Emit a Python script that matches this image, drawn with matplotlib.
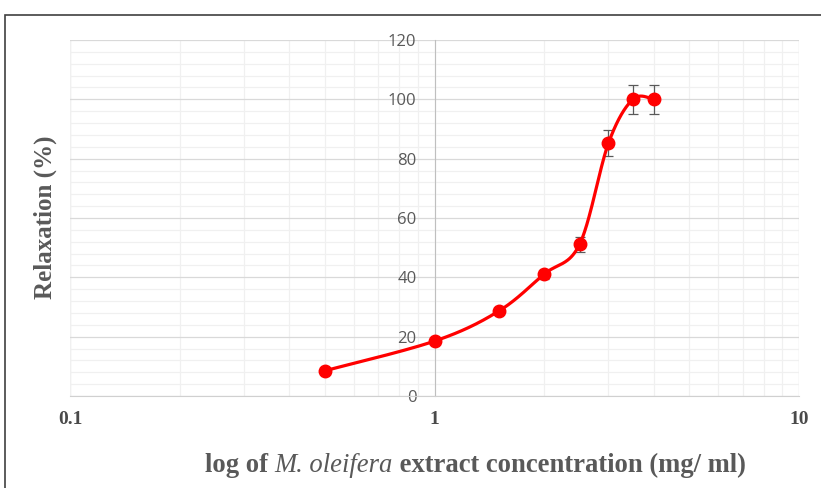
import matplotlib.pyplot as plt
import numpy as np
from matplotlib.patches import Rectangle
from matplotlib.ticker import FixedLocator, NullFormatter

# data
conc = [0.5, 1.0, 1.5, 2.0, 2.5, 3.0, 3.5, 4.0]
relax = [8.5, 18.5, 28.6, 41.1, 51.1, 85.2, 100.0, 100.0]
err = [0.8, 0.8, 1.0, 1.5, 2.4, 4.3, 5.0, 5.0]
xticks = [0.1, 1, 10]
xticklabels = ["0.1", "1", "10"]
yticks = [0, 20, 40, 60, 80, 100, 120]

plt.rcParams.update({
    "font.family": ["Open Sans", "DejaVu Sans"],
})

fig = plt.figure(figsize=(8.21, 4.88), dpi=100)
ax = fig.add_axes([70/821, 1-396/488, (799-70)/821, (396-40)/488])

# excel-like smoothed line (catmull-rom in log-x space)
u = np.log10(conc)
v = np.array(relax)
su, sv = [], []
t = np.linspace(0, 1, 40)
for i in range(len(u) - 1):
    p0 = (u[max(i-1, 0)], v[max(i-1, 0)])
    p1 = (u[i], v[i])
    p2 = (u[i+1], v[i+1])
    p3 = (u[min(i+2, len(u)-1)], v[min(i+2, len(u)-1)])
    c1 = (p1[0] + (p2[0]-p0[0])/6, p1[1] + (p2[1]-p0[1])/6)
    c2 = (p2[0] - (p3[0]-p1[0])/6, p2[1] - (p3[1]-p1[1])/6)
    for k in range(2):
        pts = [p1[k], c1[k], c2[k], p2[k]]
        b = ((1-t)**3*pts[0] + 3*(1-t)**2*t*pts[1]
             + 3*(1-t)*t**2*pts[2] + t**3*pts[3])
        (su if k == 0 else sv).extend(b)
ax.plot(10**np.array(su), sv, color="#ff0000", lw=2.3, zorder=3,
        solid_capstyle="round")
ax.errorbar(conc, relax, yerr=err, fmt="none", ecolor="#595959",
            elinewidth=0.9, capsize=3.5, capthick=0.9, zorder=2)
ax.plot(conc, relax, "o", color="#ff0000", ms=9, zorder=4)

ax.set_xscale("log")
ax.set_xlim(0.1, 10)
ax.set_ylim(0, 120)
ax.set_xticks(xticks)
minx = [m*d for d in (0.1, 1) for m in range(2, 10)]
ax.xaxis.set_minor_locator(FixedLocator(minx))
ax.xaxis.set_minor_formatter(NullFormatter())
ax.set_yticks(yticks)
ax.set_yticks(np.arange(0, 121, 4), minor=True)
ax.set_yticklabels([str(y) for y in yticks])
ax.set_xticklabels(xticklabels)
for lab in ax.get_xticklabels():
    lab.set_fontfamily("Liberation Serif")
    lab.set_fontweight("bold")

ax.grid(which="major", axis="y", color="#d9d9d9", lw=0.9)
ax.grid(which="minor", axis="y", color="#f0f0f0", lw=0.9)
ax.grid(which="both", axis="x", color="#f0f0f0", lw=0.9)
ax.set_axisbelow(True)

for s in ("top", "right"):
    ax.spines[s].set_visible(False)
ax.spines["left"].set_position(("data", 1))
ax.spines["left"].set_color("#bfbfbf")
ax.spines["bottom"].set_color("#d0d0d0")
ax.tick_params(axis="both", which="both", length=0)
ax.tick_params(axis="y", pad=13, labelcolor="#595959", labelsize=12)
ax.tick_params(axis="x", pad=11, labelcolor="#4a4a4a", labelsize=14)
ax.axvline(0.1, color="#e6e6e6", lw=0.9, zorder=0)
ax.axvline(10, color="#e6e6e6", lw=0.9, zorder=0)

# axis titles
fig.text(45/821, 1-217/488, "Relaxation (%)", rotation=90, ha="center",
         va="center", fontfamily="Liberation Serif", fontweight="bold",
         fontsize=18, color="#595959")
t1 = fig.text(205/821, 1-472/488, "log of ", ha="left", va="baseline",
              fontfamily="Liberation Serif", fontweight="bold",
              fontsize=19.2, color="#595959")
t2 = ax.annotate("M. oleifera", xy=(1, 0), xycoords=t1, va="bottom",
                 fontfamily="Liberation Serif", fontstyle="italic",
                 fontsize=19.2, color="#595959", annotation_clip=False)
ax.annotate(" extract concentration (mg/ ml)", xy=(1, 0), xycoords=t2,
            va="bottom", fontfamily="Liberation Serif", fontweight="bold",
            fontsize=19.2, color="#595959", annotation_clip=False)

# outer chart frame
fig.patches.append(Rectangle((5/821, -0.2), 1.2, 1-15/488+0.2,
                             transform=fig.transFigure, fill=False,
                             edgecolor="#404040", lw=1.2))

fig.savefig("out.png", dpi=100)
